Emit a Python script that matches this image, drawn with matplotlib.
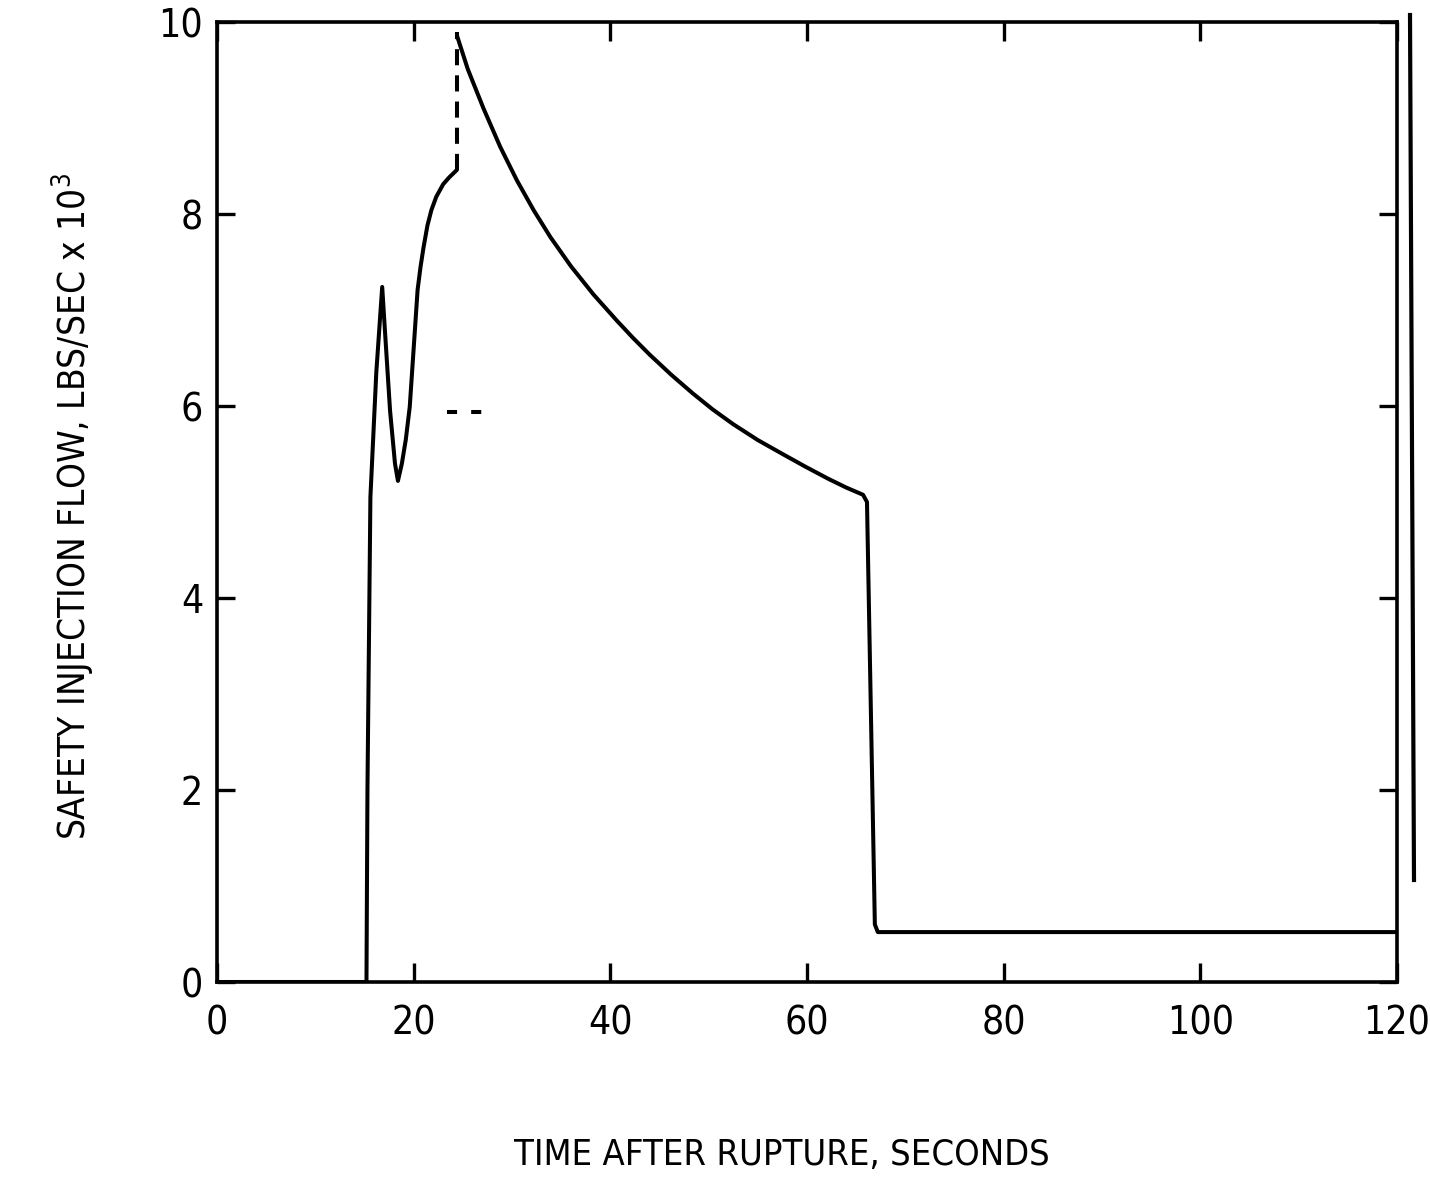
import matplotlib
matplotlib.use("Agg")
import matplotlib.pyplot as plt
from matplotlib.lines import Line2D

plt.rcParams['font.family'] = ['DejaVu Sans']
plt.rcParams['font.stretch'] = 'condensed'
plt.rcParams['mathtext.fontset'] = 'dejavusans'

# Safety injection flow (lbs/sec x 10^3) vs time after rupture (s)
t_rise = [0.0, 15.2, 15.3, 15.6, 16.2, 16.8, 17.1, 17.6, 18.1, 18.4, 18.8, 19.2,
          19.6, 20.0, 20.4, 20.7, 21.0, 21.4, 21.8, 22.3, 23.0, 23.6, 24.2, 24.4]
f_rise = [0.0, 0.0, 2.0, 5.05, 6.35, 7.24, 6.75, 5.95, 5.40, 5.22, 5.40, 5.65,
          5.99, 6.60, 7.21, 7.45, 7.65, 7.88, 8.04, 8.18, 8.31, 8.38, 8.44, 8.46]

t_jump = [24.4, 24.4]
f_jump = [8.46, 9.90]

t_decay = [24.4, 25.5, 27.1, 28.8, 30.5, 32.2, 33.9, 36.0, 38.3, 40.7, 42.3,
           44.0, 46.2, 48.4, 50.4, 52.5, 55.0, 57.6, 59.8, 62.1, 64.0, 65.7,
           66.1, 66.9, 67.2, 120.0]
f_decay = [9.86, 9.51, 9.10, 8.70, 8.35, 8.04, 7.76, 7.455, 7.16, 6.885, 6.71,
           6.535, 6.325, 6.13, 5.965, 5.81, 5.645, 5.495, 5.37, 5.245, 5.15, 5.075,
           5.00, 0.60, 0.52, 0.52]

t_mark = [23.4, 27.0]
f_mark = [5.94, 5.94]

x_ticks = [0, 20, 40, 60, 80, 100, 120]
y_ticks = [0, 2, 4, 6, 8, 10]

fig = plt.figure(figsize=(14.30, 11.78), dpi=100)
ax = fig.add_axes([217/1430, 1 - 982/1178, (1397-217)/1430, (982-22)/1178])

lw = 2.9
ax.plot(t_rise, f_rise, color='black', lw=lw, solid_joinstyle='round',
        solid_capstyle='round')
ax.plot(t_jump, f_jump, color='black', lw=lw, linestyle=(0, (4, 2.5)))
ax.plot(t_decay, f_decay, color='black', lw=lw, solid_joinstyle='round',
        solid_capstyle='round')
ax.plot(t_mark, f_mark, color='black', lw=lw, linestyle=(0, (2.5, 3.5)))

ax.set_xlim(0, 120)
ax.set_ylim(0, 10)
ax.set_xticks(x_ticks)
ax.set_yticks(y_ticks)
ax.set_xticklabels([str(v) for v in x_ticks])
ax.set_yticklabels([str(v) for v in y_ticks])

for s in ax.spines.values():
    s.set_linewidth(2.6)

ax.tick_params(axis='x', direction='in', length=14, width=2.4, top=True, bottom=True,
               labelsize=28, pad=16)
ax.tick_params(axis='y', direction='in', length=13, width=2.4, left=True, right=True,
               labelsize=28, pad=10)

ax.set_xlabel('TIME AFTER RUPTURE, SECONDS', fontsize=26)
ax.xaxis.set_label_coords(0.479, -0.162)
ax.set_ylabel(r'SAFETY INJECTION FLOW, LBS/SEC x 10$^3$', fontsize=26.5)
ax.yaxis.set_label_coords(-0.102, 0.495)

# scanning edge line at right margin
fig.add_artist(Line2D([1410/1430, 1414/1430], [1 - 15/1178, 1 - 880/1178],
                      color='black', lw=3))

fig.savefig('out.png', dpi=100, facecolor='white')
